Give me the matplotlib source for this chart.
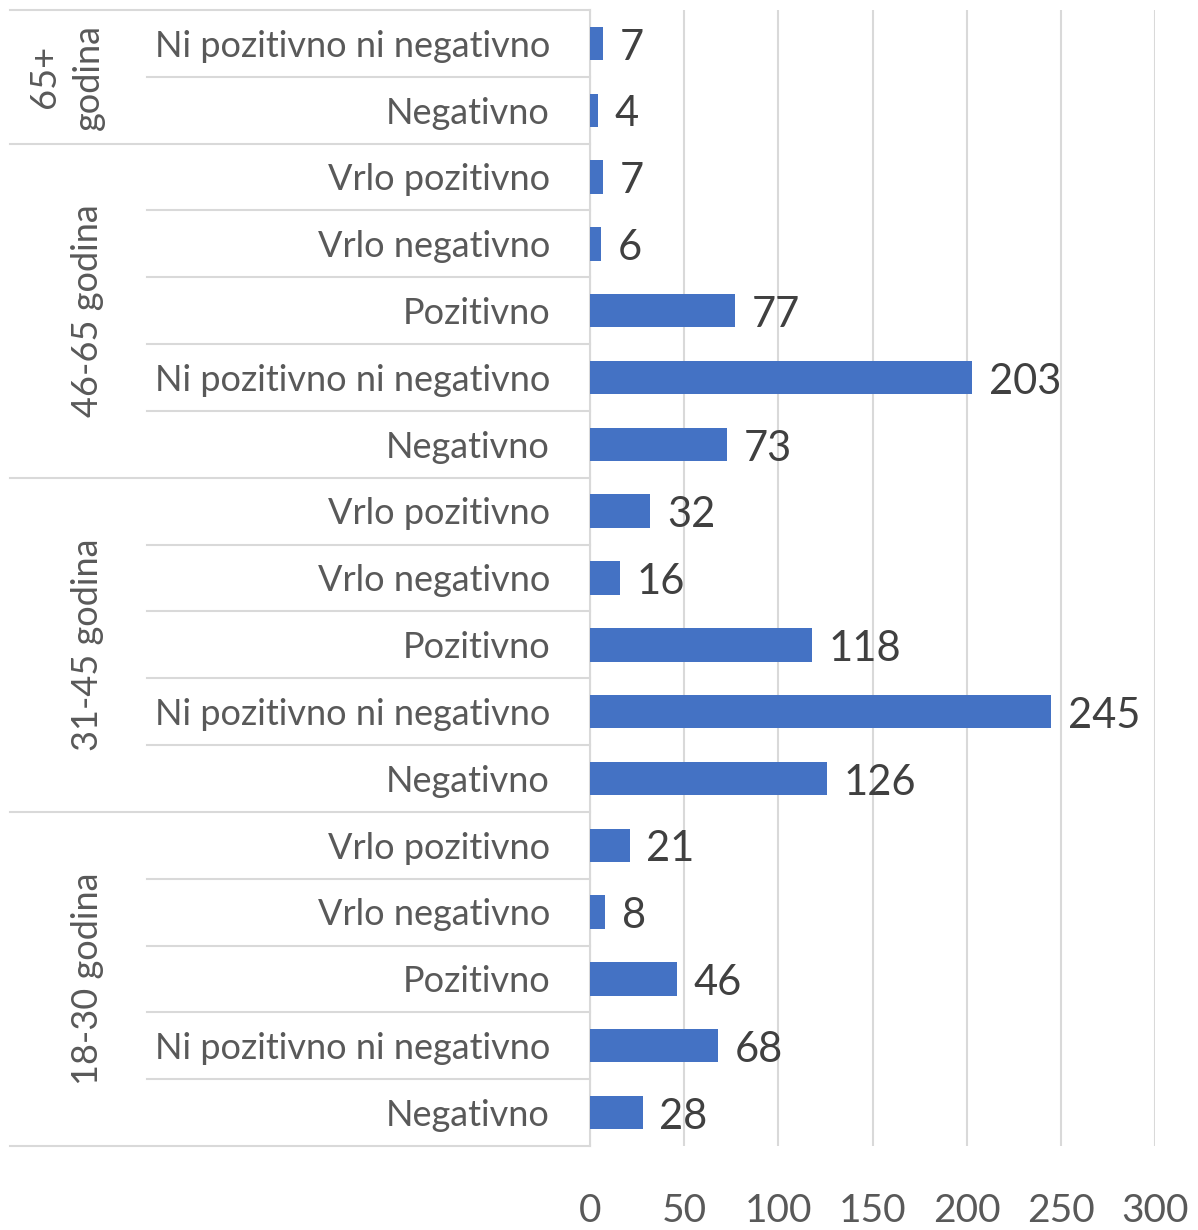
import matplotlib
matplotlib.use("Agg")
import matplotlib.pyplot as plt
from matplotlib.transforms import blended_transform_factory, offset_copy
from matplotlib.lines import Line2D

plt.rcParams['font.family'] = ['Lato', 'DejaVu Sans']

groups = ["18-30 godina", "31-45 godina", "46-65 godina", "65+\ngodina"]
group_cats = [
    ["Negativno", "Ni pozitivno ni negativno", "Pozitivno", "Vrlo negativno", "Vrlo pozitivno"],
    ["Negativno", "Ni pozitivno ni negativno", "Pozitivno", "Vrlo negativno", "Vrlo pozitivno"],
    ["Negativno", "Ni pozitivno ni negativno", "Pozitivno", "Vrlo negativno", "Vrlo pozitivno"],
    ["Negativno", "Ni pozitivno ni negativno"],
]
group_vals = [
    [28, 68, 46, 8, 21],
    [126, 245, 118, 16, 32],
    [73, 203, 77, 6, 7],
    [4, 7],
]
xticks = [0, 50, 100, 150, 200, 250, 300]

W, H = 1198, 1230
fig = plt.figure(figsize=(W / 100, H / 100), dpi=100)
ax = fig.add_axes([590 / W, 1 - 1146 / H, (1155 - 590) / W, (1146 - 10) / H])

labels, values = [], []
for cats, vals in zip(group_cats, group_vals):
    labels += cats
    values += vals
ypos = list(range(len(values)))

bar_color = "#4472C4"
ax.barh(ypos, values, height=0.5, color=bar_color, zorder=3)
ax.set_xlim(0, 300)
ax.set_ylim(-0.5, len(values) - 0.5)
ax.set_xticks(xticks)
ax.set_xticklabels([str(t) for t in xticks], fontsize=28, color="#595959")
ax.tick_params(axis='x', length=0, pad=34)
ax.set_yticks([])
ax.grid(axis='x', color="#D9D9D9", linewidth=1.5, zorder=0)
for s in ["top", "right", "bottom"]:
    ax.spines[s].set_visible(False)
ax.spines["left"].set_color("#D9D9D9")
ax.spines["left"].set_linewidth(1.5)

for y, v in zip(ypos, values):
    ax.annotate(str(v), (v, y), xytext=(12, -3), textcoords="offset points",
                ha="left", va="center", fontsize=30, color="#404040")

tr = blended_transform_factory(fig.transFigure, ax.transData)
tr_txt = offset_copy(tr, fig=fig, x=0, y=-2, units="points")
for y, lab in zip(ypos, labels):
    ax.text(550 / W, y, lab, transform=tr_txt, ha="right", va="center",
            fontsize=26, color="#595959")

# separators
lc = "#D9D9D9"
start = 0
bounds = [-0.5]
for gi, cats in enumerate(group_cats):
    n = len(cats)
    for k in range(1, n):
        yy = start + k - 0.5
        fig.add_artist(Line2D([147 / W, 590 / W], [yy, yy], transform=tr, color=lc, lw=1.5))
    center = start + (n - 1) / 2
    ax.text(88 / W if n > 2 else 66 / W, center, groups[gi], transform=tr, rotation=90,
            ha="center", va="center", fontsize=26, color="#595959",
            multialignment="center", linespacing=1.4)
    start += n
    bounds.append(start - 0.5)
for yy in bounds:
    fig.add_artist(Line2D([10 / W, 590 / W], [yy, yy], transform=tr, color=lc, lw=1.5))

fig.savefig("out.png", dpi=100, facecolor="white")
